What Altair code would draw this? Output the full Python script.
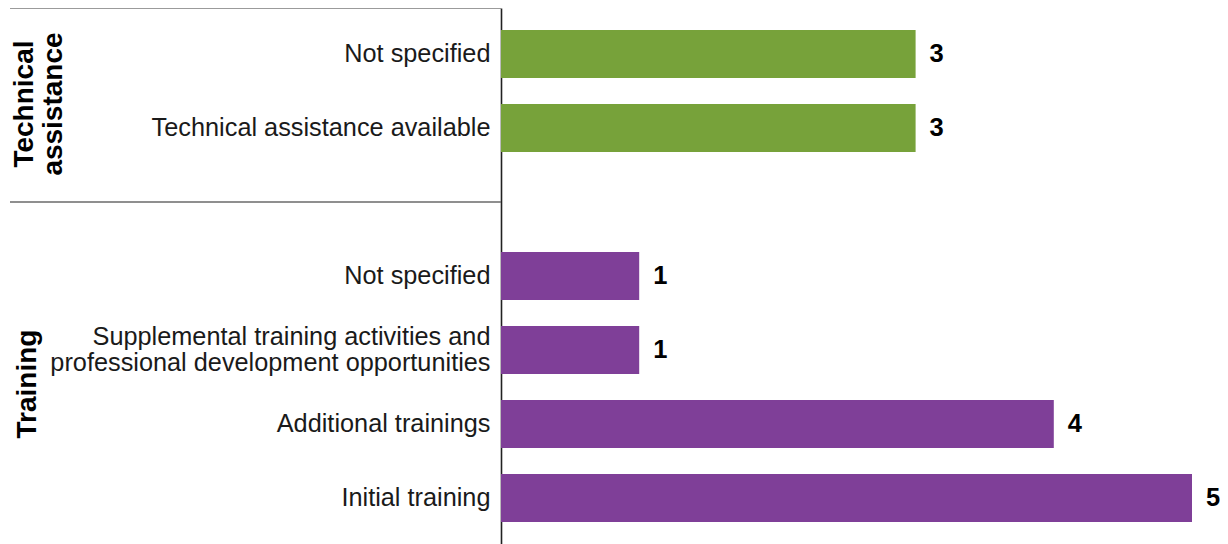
import altair as alt
import pandas as pd

# ---- data ----
groups = ["Technical assistance", "Technical assistance",
          "Training", "Training", "Training", "Training"]
keys = ["ta_ns", "ta_av", "tr_ns", "tr_sup", "tr_add", "tr_init"]
labels = ["Not specified",
          "Technical assistance available",
          "Not specified",
          "Supplemental training activities and\nprofessional development opportunities",
          "Additional trainings",
          "Initial training"]
values = [3, 3, 1, 1, 4, 5]
slot_order = ["ta_ns", "ta_av", "gap", "tr_ns", "tr_sup", "tr_add", "tr_init"]
group_domain = ["Technical assistance", "Training"]
group_colors = ["#77A23A", "#7F3F98"]

FONT = "Liberation Sans"

df = pd.DataFrame({"group": groups, "slot": keys, "label": labels, "value": values})


def js_str(s):
    return "'" + s.replace("'", "\\'") + "'"


# label expression mapping slot keys to (possibly multi-line) labels
expr = "''"
multi = []
for k, l in reversed(list(zip(keys, labels))):
    parts = l.split("\n")
    if len(parts) == 1:
        lab = js_str(parts[0])
    else:
        lab = "[" + ",".join(js_str(p) for p in parts) + "]"
        multi.append(k)
    expr = f"datum.value === {js_str(k)} ? {lab} : ({expr})"

multi_test = " || ".join(f"datum.value === {js_str(k)}" for k in multi) or "false"

LINE_H = 26

yscale = alt.Scale(domain=slot_order, paddingInner=0.35, paddingOuter=0.297)
xscale = alt.Scale(domain=[0, 5], nice=False)

base = alt.Chart(df)

bars = base.mark_bar().encode(
    x=alt.X("value:Q", scale=xscale, axis=None),
    y=alt.Y("slot:N", scale=yscale, sort=slot_order,
            axis=alt.Axis(title=None, ticks=False, labelExpr=expr,
                          labelFont=FONT, labelFontSize=25.3, labelColor="#1a1a1a",
                          labelPadding=11, labelLineHeight=LINE_H, labelLimit=600,
                          labelOffset={"condition": {"test": multi_test, "value": -LINE_H / 2},
                                       "value": 0},
                          domainColor="#222222", domainWidth=1.6, grid=False,
                          labelOverlap=False)),
    color=alt.Color("group:N", scale=alt.Scale(domain=group_domain, range=group_colors),
                    legend=None),
)

value_text = base.mark_text(align="left", baseline="middle", dx=14,
                            font=FONT, fontSize=25.5, fontWeight="bold",
                            color="#000000").encode(
    x=alt.X("value:Q", scale=xscale),
    y=alt.Y("slot:N", scale=yscale, sort=slot_order),
    text=alt.Text("value:Q"),
)

# decorative box lines around the first group
top_line = alt.Chart(pd.DataFrame({"slot": ["ta_ns"]})).mark_rule(
    color="#7a7a7a", strokeWidth=1.5).encode(
    x=alt.value(-491), x2=alt.value(0), y=alt.value(0))

divider = alt.Chart(pd.DataFrame({"slot": ["gap"]})).mark_rule(
    color="#6a6a6a", strokeWidth=1.5).encode(
    x=alt.value(-491), x2=alt.value(0),
    y=alt.Y("slot:N", scale=yscale, sort=slot_order))

ta_label = alt.Chart(pd.DataFrame({"slot": ["ta_av"], "name": ["Technical\nassistance"]})).mark_text(
    angle=270, align="center", baseline="middle", lineBreak="\n", lineHeight=29,
    font=FONT, fontSize=28, fontWeight="bold", color="#000000", dx=24).encode(
    x=alt.value(-476),
    y=alt.Y("slot:N", scale=yscale, sort=slot_order),
    text="name:N")

tr_label = alt.Chart(pd.DataFrame({"slot": ["tr_sup"], "name": ["Training"]})).mark_text(
    angle=270, align="center", baseline="middle",
    font=FONT, fontSize=28, fontWeight="bold", color="#000000", dx=-34).encode(
    x=alt.value(-473),
    y=alt.Y("slot:N", scale=yscale, sort=slot_order),
    text="name:N")

chart = alt.layer(bars, value_text, top_line, divider, ta_label, tr_label).properties(
    width=691, height=536,
    background="white",
    autosize=alt.AutoSizeParams(type="none"),
    padding={"left": 493, "top": 0, "right": 28, "bottom": 0},
).configure_view(stroke=None, strokeWidth=0)

chart.save("out.html", embed_options={"renderer": "svg", "actions": False})
